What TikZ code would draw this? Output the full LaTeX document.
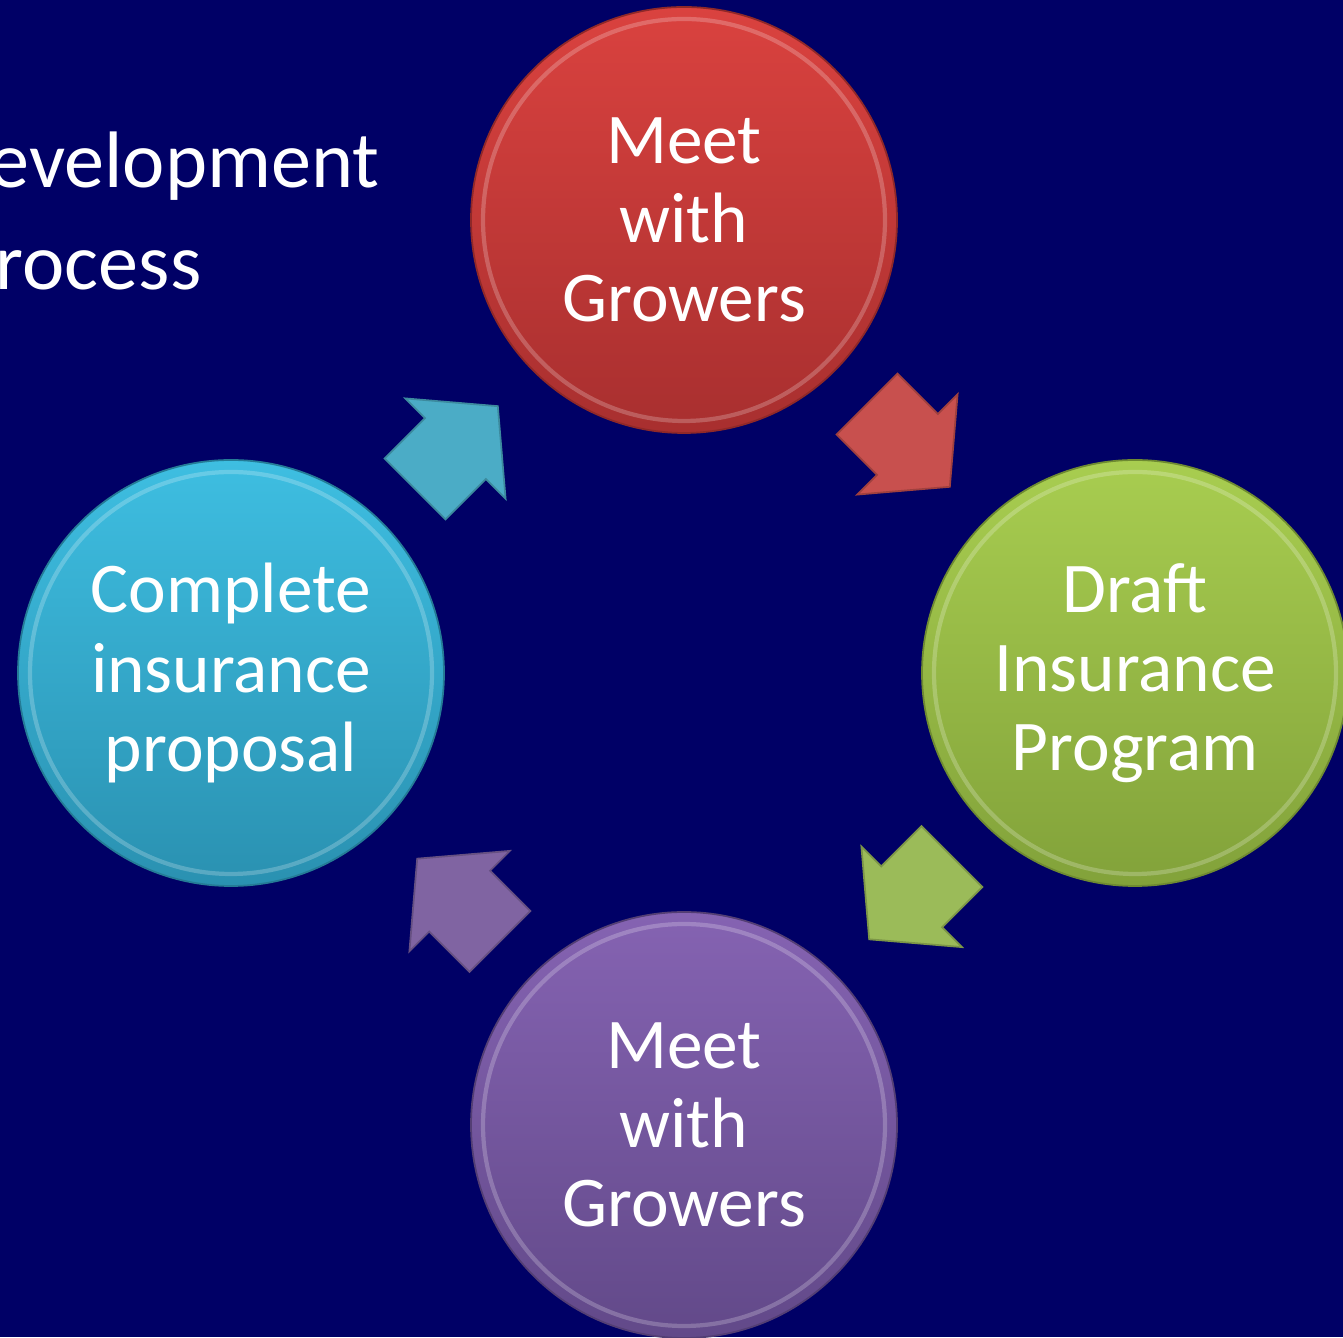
\documentclass[tikz,border=0pt]{standalone}
\usepackage{fontspec}
\setmainfont{Carlito}
\usetikzlibrary{
  calc,         % Midpoints $(a)!0.5!(b)$
  positioning,
}
\definecolor{slidebg}{RGB}{0,0,102}
\definecolor{redtop}{RGB}{218,66,63}
\definecolor{redbot}{RGB}{168,47,47}
\definecolor{greentop}{RGB}{168,205,80}
\definecolor{greenbot}{RGB}{130,162,58}
\definecolor{purptop}{RGB}{133,99,178}
\definecolor{purpbot}{RGB}{98,73,137}
\definecolor{aquatop}{RGB}{62,190,225}
\definecolor{aquabot}{RGB}{42,145,177}
\definecolor{arrred}{RGB}{200,80,78}
\definecolor{arrgreen}{RGB}{155,187,89}
\definecolor{arrpurp}{RGB}{128,100,162}
\definecolor{arraqua}{RGB}{75,172,198}
\def\myrad{2.13cm}
\tikzset{
  slide title/.style={
    text=white,
    inner sep=0mm,
    align=left,
    font=\fontsize{22.8}{29}\selectfont
  },
  stage/.style={
    circle,
    minimum size=2*\myrad,
    inner sep=0mm,
    align=center,
    text=white,
    font=\fontsize{20.3}{22.5}\selectfont,
    draw=#1bot!85!black,
    line width=0.5pt,
    top color=#1top,
    bottom color=#1bot
  },
  rim/.style={
    draw=white,
    opacity=0.22,
    line width=1.2pt
  },
  cycle arrow/.style={
    fill=#1,
    draw=#1!80!black,
    line width=0.5pt,
    line join=miter
  }
}

\begin{document}
\begin{tikzpicture}
\useasboundingbox[fill=slidebg] (0,0) rectangle (13.43,13.37);
% heading runs off the left edge
\begin{scope}
  \clip (0,0) rectangle (13.43,13.37);
  \node[slide title,anchor=base east] (ttl1) at (3.80,11.49) {Development};
  \node[slide title,anchor=base east] (ttl2) at (2.02,10.47) {Process};
\end{scope}

\node[stage=red]    (meet1) at (6.84,11.17) {Meet\\with\\Growers};
\node[stage=green]  (draft) at (11.35,6.64) {Draft\\Insurance\\Program};
\node[stage=purp]   (meet2) at (6.84,2.12)  {Meet\\with\\Growers};
\node[stage=aqua]   (prop)  at (2.31,6.64)  {Complete\\insurance\\proposal};

\foreach \n in {meet1,draft,meet2,prop}
  \draw[rim] (\n.center) circle (2.01);

% block arrows halfway between the circles
\foreach \a/\b/\ang/\col in {meet1/draft/-45/arrred, draft/meet2/-135/arrgreen,
                             meet2/prop/135/arrpurp, prop/meet1/45/arraqua}
  \path[cycle arrow=\col, shift={($(\a)!0.5!(\b)$)}, rotate=\ang]
    (-0.60,-0.43) -- (-0.03,-0.43) -- (-0.03,-0.71) -- (0.57,0)
    -- (-0.03,0.71) -- (-0.03,0.43) -- (-0.60,0.43) -- cycle;
\end{tikzpicture}
\end{document}
